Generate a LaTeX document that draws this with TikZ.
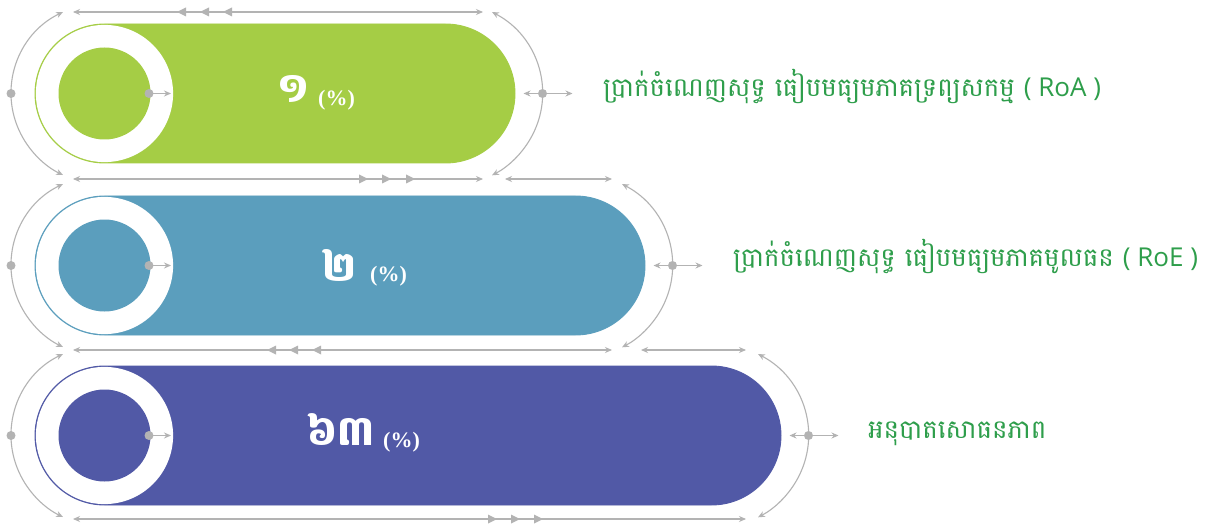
\documentclass[tikz,border=0pt]{standalone}
\usepackage{fontspec}
\newfontfamily\khfont[Script=Khmer]{Battambang}
\newfontfamily\latfont{Open Sans}
\newfontfamily\pctfont{Liberation Serif}
\usetikzlibrary{arrows.meta}
\definecolor{barA}{HTML}{A5CD45}
\definecolor{barB}{HTML}{5B9EBD}
\definecolor{barC}{HTML}{5159A6}
\definecolor{guide}{HTML}{B3B3B3}
\definecolor{labelgreen}{HTML}{2E9E4B}
\newcommand\midtriL[2]{\fill[guide] (#1,#2) -- ++(9,-4.5) -- ++(0,9) -- cycle;}
\newcommand\midtriR[2]{\fill[guide] (#1,#2) -- ++(-9,-4.5) -- ++(0,9) -- cycle;}
\begin{document}
\begin{tikzpicture}[x=1pt,y=-1pt,
  tip/.tip={Stealth[length=7pt,width=6pt]},
  guideline/.style={draw=guide,line width=1.1pt,tip-tip},
  guideone/.style={draw=guide,line width=1.1pt,-tip},
  gdot/.style={circle,fill=guide,inner sep=0pt,minimum size=9pt},
  numtext/.style={text=white,font=\khfont\bfseries\fontsize{41}{41}\selectfont,inner sep=0pt},
  pcttext/.style={text=white,font=\pctfont\bfseries\fontsize{22}{22}\selectfont,inner sep=0pt},
  labeltext/.style={text=labelgreen,font=\khfont\fontsize{26}{30}\selectfont,inner sep=0pt}]
\useasboundingbox (0,0) rectangle (1211,524);
\fill[white] (0,0) rectangle (1211,524);

\foreach \yc/\xr/\bc/\bn in {93.5/515/barA/a,265.5/645/barB/b,435.5/781/barC/c}{
  \fill[\bc,draw=\bc,line width=0.9pt,rounded corners=69.5pt] (35,\yc-69.5) rectangle (\xr,\yc+69.5);
  \fill[white] (104.5,\yc) circle[radius=68.6pt];
  \fill[\bc] (104.5,\yc) circle[radius=46pt];
  % inner dot and arrow
  \node[gdot] (in\bn) at (149,\yc) {};
  \coordinate (inend\bn) at (171,\yc);
  \draw[guideone] (in\bn.center) -- (inend\bn);
  % left arc
  \draw[guideline] (63,\yc-81.5) arc[start angle=116.4,end angle=243.6,x radius=93.5pt,y radius=91pt];
  \node[gdot] (ld\bn) at (11,\yc) {};
  % right arc
  \draw[guideline] (\xr-23,\yc-81.5) arc[start angle=61.4,end angle=-61.4,x radius=97pt,y radius=93pt];
  \node[gdot] (rd\bn) at (\xr+27.5,\yc) {};
  \coordinate (rl\bn) at (\xr+8.5,\yc);
  \coordinate (rr\bn) at (\xr+57.5,\yc);
  \draw[guideline] (rl\bn) -- (rr\bn);
}

% horizontal guide lines
\coordinate (h1a) at (73,12);   \coordinate (h1b) at (483,12);
\coordinate (h2a) at (73,179);  \coordinate (h2b) at (483,179);
\coordinate (h2c) at (505,179); \coordinate (h2d) at (612,179);
\coordinate (h3a) at (73,350);  \coordinate (h3b) at (612,350);
\coordinate (h3c) at (641,350); \coordinate (h3d) at (746,350);
\coordinate (h4a) at (73,519);  \coordinate (h4b) at (746,519);
\draw[guideline] (h1a) -- (h1b);
\draw[guideline] (h2a) -- (h2b);
\draw[guideline] (h2c) -- (h2d);
\draw[guideline] (h3a) -- (h3b);
\draw[guideline] (h3c) -- (h3d);
\draw[guideline] (h4a) -- (h4b);
\midtriL{177}{12}\midtriL{200}{12}\midtriL{223}{12}
\midtriR{368}{179}\midtriR{391}{179}\midtriR{415}{179}
\midtriL{267}{350}\midtriL{289}{350}\midtriL{312}{350}
\midtriR{497}{519}\midtriR{520}{519}\midtriR{543}{519}

% numbers
\node[numtext,anchor=base west] (n1) at (277,102.7) {១};
\node[pcttext,anchor=base west] (p1) at (318,106) {(\%)};
\node[numtext,anchor=base west] (n2) at (322,281.7) {២};
\node[pcttext,anchor=base west] (p2) at (370,281) {(\%)};
\node[numtext,anchor=base west] (n3) at (307,445) {៦៣};
\node[pcttext,anchor=base west] (p3) at (383,447.7) {(\%)};

% labels
\node[labeltext,anchor=base west] (l1) at (603,97) {ប្រាក់ចំណេញសុទ្ធ ធៀបមធ្យមភាគទ្រព្យសកម្ម {\latfont ( RoA )}};
\node[labeltext,anchor=base west] (l2) at (733,266.7) {ប្រាក់ចំណេញសុទ្ធ ធៀបមធ្យមភាគមូលធន {\latfont ( RoE )}};
\node[labeltext,anchor=base west] (l3) at (868,438) {អនុបាតសោធនភាព};
\end{tikzpicture}
\end{document}
